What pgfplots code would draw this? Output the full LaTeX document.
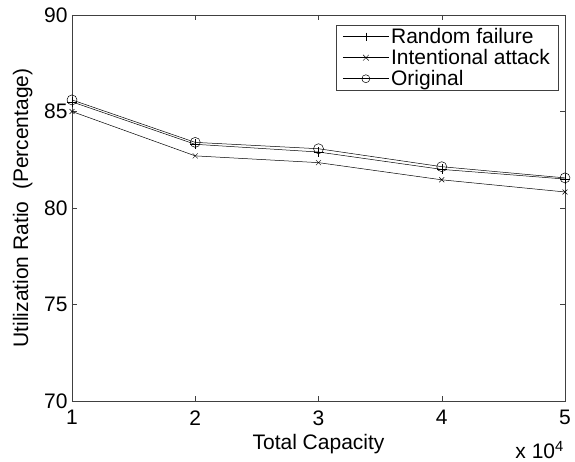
\documentclass[border=0pt]{standalone}
\usepackage{pgfplots}
\pgfplotsset{compat=1.18}
\usepackage{fontspec}
\setmainfont{Liberation Sans}
\begin{document}
\begin{tikzpicture}
\begin{axis}[
  name=ax,
  scale only axis,
  width=493pt, height=386pt,
  xmin=1, xmax=5, ymin=70, ymax=90,
  xtick={1,2,3,4,5}, ytick={70,75,80,85,90},
  tick align=inside,
  major tick length=5pt,
  axis line style={black!75},
  tick style={black!75},
  font=\fontsize{21}{24}\selectfont,
  /pgf/number format/assume math mode=true,
  xticklabel style={yshift=-6pt},
  yticklabel style={xshift=-1pt},
  xlabel={Total Capacity},
  ylabel={Utilization Ratio\ \ (Percentage)},
  xlabel style={at={(axis description cs:0.5,0)}, anchor=north, yshift=-30pt},
  ylabel style={at={([xshift=-36pt]axis description cs:0,0.5)}, anchor=south},
  legend style={at={(0.986,0.974)}, anchor=north east, draw=black!75, inner xsep=6pt, inner ysep=1pt,
    font=\fontsize{21}{24}\selectfont, row sep=0pt,
    cells={anchor=west, text height=15.5pt, text depth=5.5pt, inner ysep=3pt, inner xsep=2pt}},
  legend cell align=left,
  legend image code/.code={\draw[mark repeat=2,mark phase=2,mark size=4pt] plot coordinates {(0pt,0pt) (23pt,0pt) (46pt,0pt)};},
  clip=false,
]
\addplot[black, mark=+, mark size=5pt, line width=0.5pt] coordinates {(1,85.5) (2,83.3) (3,82.9) (4,82.0) (5,81.5)};
\addlegendentry{Random failure}
\addplot[black, mark=x, mark size=3.5pt, line width=0.5pt] coordinates {(1,85.0) (2,82.7) (3,82.35) (4,81.46) (5,80.83)};
\addlegendentry{Intentional attack}
\addplot[black, mark=o, mark size=5pt, line width=0.5pt] coordinates {(1,85.6) (2,83.4) (3,83.07) (4,82.14) (5,81.56)};
\addlegendentry{Original}
\node[anchor=base east, font=\fontsize{21}{24}\selectfont, inner sep=0pt] at ([xshift=-1pt,yshift=-58pt]rel axis cs:1,0) {x 10\textsuperscript{4}};
\end{axis}
\pgfresetboundingbox
\path[use as bounding box] ([xshift=-72pt,yshift=-61pt]ax.south west) rectangle ([xshift=10pt,yshift=15pt]ax.north east);
\end{tikzpicture}
\end{document}
